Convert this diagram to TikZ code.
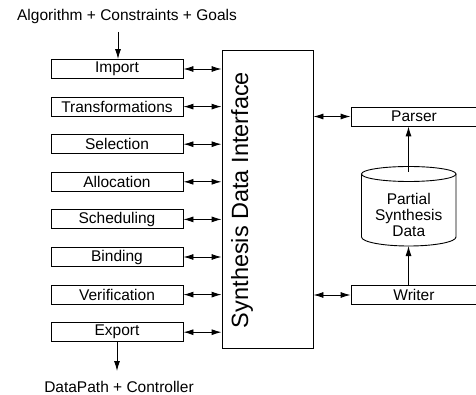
\documentclass[tikz,border=0pt]{standalone}
\usepackage{fontspec}
\setmainfont{Liberation Sans}
\usetikzlibrary{arrows.meta}
\begin{document}
\begin{tikzpicture}[x=1pt,y=-1pt,line width=0.9pt,
  lbl/.style={font=\fontsize{15.5}{16}\selectfont, inner sep=0pt},
  stage/.style={draw, rectangle, minimum width=132pt, minimum height=19pt, inner sep=0pt, font=\fontsize{15.5}{16}\selectfont},
  side/.style={draw, rectangle, minimum width=126pt, minimum height=19pt, inner sep=0pt, font=\fontsize{15.5}{16}\selectfont},
  tip/.style={-{Latex[length=10pt,width=6pt]}},
  dtip/.style={{Latex[length=10pt,width=6pt]}-{Latex[length=10pt,width=6pt]}}]
\useasboundingbox (0,0) rectangle (476,395);
\clip (0,0) rectangle (476,395);
\node[lbl] (in) at (127,16) {Algorithm + Constraints + Goals};
\node[lbl] (out) at (119,387) {DataPath + Controller};
\coordinate (inA) at (118,32);
\coordinate (outA) at (117,371);
\node[stage] (s1) at (117,69) {Import};
\node[stage] (s2) at (117,106.6) {Transformations};
\node[stage] (s3) at (117,144.2) {Selection};
\node[stage] (s4) at (117,181.8) {Allocation};
\node[stage] (s5) at (117,219.4) {Scheduling};
\node[stage] (s6) at (117,257) {Binding};
\node[stage] (s7) at (117,294.6) {Verification};
\node[stage] (s8) at (117,332.2) {Export};
\node[draw, rectangle, minimum width=91pt, minimum height=298pt, inner sep=0pt] (sdi) at (267.5,199) {};
\node[rotate=90, font=\fontsize{23.5}{24}\selectfont, inner sep=0pt] (sdit) at (242,200) {Synthesis Data Interface};
\node[side] (parser) at (414,116.5) {Parser};
\node[side] (writer) at (414,295) {Writer};
% cylinder
\draw (361.5,174) -- (361.5,237) arc[start angle=180, end angle=360, x radius=47.25pt, y radius=9pt] -- (456,174);
\draw (408.75,174) ellipse[x radius=47.25pt, y radius=7.5pt];
\node[align=center, font=\fontsize{15.5}{16}\selectfont, inner sep=0pt] (db) at (408.75,215) {Partial\\Synthesis\\Data};
\coordinate (dbtop) at (408.5,172);
\coordinate (dbbot) at (408.5,246);
\draw[tip] (inA) -- (s1.north -| inA);
\draw[tip] (s8.south -| outA) -- (outA);
\foreach \i in {1,...,8}{
  \draw[dtip] (s\i.east) -- (s\i.east -| sdi.west);
}
\draw[dtip] (parser.west -| sdi.east) -- (parser.west);
\draw[dtip] (writer.west -| sdi.east) -- (writer.west);
\draw[tip] (dbtop) -- (parser.south -| dbtop);
\draw[tip] (writer.north -| dbbot) -- (dbbot);
\end{tikzpicture}
\end{document}
